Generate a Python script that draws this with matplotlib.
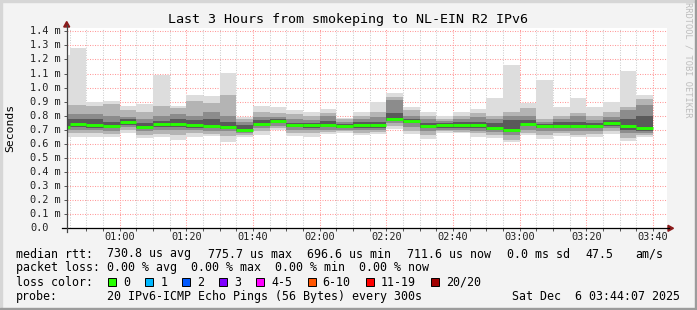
import matplotlib
matplotlib.use("Agg")
import matplotlib.pyplot as plt
import matplotlib.dates as mdates
import matplotlib.transforms as mtrans
from matplotlib.patches import Rectangle, Polygon
from matplotlib.lines import Line2D
import numpy as np
import pandas as pd

## chart data (milliseconds), one value per 5 minute step, step end times below
bar_end = pd.date_range("2025-12-06 00:45", "2025-12-06 03:40", freq="5min")

ping_max = [1.23, 1.28, 0.896, 0.907, 0.866, 0.88, 1.089, 0.872, 0.946, 0.94,
            1.107, 0.793, 0.872, 0.865, 0.84, 0.83, 0.845, 0.786, 0.83, 0.896,
            0.963, 0.86, 0.824, 0.80, 0.824, 0.845, 0.923, 1.16, 0.892, 1.053,
            0.865, 0.928, 0.864, 0.90, 1.12, 0.946]
smoke_hi2 = [0.875, 0.875, 0.872, 0.88, 0.84, 0.824, 0.87, 0.853, 0.906, 0.888,
             0.946, 0.775, 0.824, 0.817, 0.81, 0.80, 0.817, 0.775, 0.80, 0.824,
             0.935, 0.84, 0.796, 0.78, 0.80, 0.817, 0.80, 0.83, 0.853, 0.78,
             0.796, 0.817, 0.796, 0.824, 0.864, 0.917]
smoke_hi3 = [0.81, 0.81, 0.81, 0.80, 0.79, 0.78, 0.80, 0.81, 0.80, 0.83,
             0.80, 0.757, 0.793, 0.793, 0.78, 0.77, 0.80, 0.757, 0.78, 0.793,
             0.911, 0.80, 0.775, 0.765, 0.78, 0.79, 0.78, 0.80, 0.80, 0.757,
             0.78, 0.796, 0.77, 0.79, 0.84, 0.876]
smoke_hi4 = [0.775, 0.775, 0.774, 0.757, 0.775, 0.75, 0.76, 0.774, 0.77, 0.78,
             0.758, 0.734, 0.77, 0.78, 0.746, 0.75, 0.76, 0.74, 0.757, 0.757,
             0.817, 0.78, 0.75, 0.75, 0.757, 0.757, 0.75, 0.77, 0.77, 0.74,
             0.757, 0.757, 0.75, 0.77, 0.78, 0.80]
median_rtt = [0.722, 0.740, 0.736, 0.724, 0.757, 0.720, 0.740, 0.740, 0.735, 0.724,
              0.720, 0.698, 0.740, 0.762, 0.734, 0.734, 0.734, 0.724, 0.734, 0.734,
              0.776, 0.765, 0.724, 0.734, 0.734, 0.734, 0.715, 0.698, 0.740, 0.724,
              0.724, 0.724, 0.724, 0.746, 0.724, 0.710]
smoke_lo4 = [0.71, 0.72, 0.716, 0.71, 0.735, 0.71, 0.72, 0.72, 0.71, 0.71,
             0.705, 0.69, 0.725, 0.745, 0.72, 0.715, 0.72, 0.715, 0.715, 0.715,
             0.76, 0.745, 0.71, 0.715, 0.715, 0.715, 0.70, 0.685, 0.725, 0.71,
             0.71, 0.71, 0.71, 0.73, 0.70, 0.695]
smoke_lo3 = [0.698, 0.698, 0.698, 0.69, 0.72, 0.69, 0.698, 0.698, 0.698, 0.695,
             0.69, 0.675, 0.71, 0.73, 0.70, 0.70, 0.70, 0.70, 0.70, 0.70,
             0.745, 0.72, 0.69, 0.70, 0.70, 0.695, 0.685, 0.66, 0.70, 0.69,
             0.695, 0.69, 0.69, 0.71, 0.675, 0.675]
smoke_lo2 = [0.675, 0.675, 0.675, 0.67, 0.70, 0.665, 0.67, 0.665, 0.675, 0.67,
             0.655, 0.66, 0.69, 0.715, 0.68, 0.675, 0.685, 0.69, 0.68, 0.685,
             0.73, 0.69, 0.66, 0.69, 0.685, 0.675, 0.665, 0.63, 0.68, 0.66,
             0.675, 0.665, 0.67, 0.69, 0.645, 0.66]
ping_min = [0.651, 0.651, 0.651, 0.651, 0.675, 0.64, 0.651, 0.627, 0.651, 0.655,
            0.615, 0.646, 0.663, 0.698, 0.655, 0.651, 0.67, 0.675, 0.663, 0.67,
            0.703, 0.667, 0.637, 0.68, 0.675, 0.651, 0.644, 0.615, 0.663, 0.634,
            0.658, 0.646, 0.651, 0.67, 0.623, 0.646]

y_ticks = [0.0, 0.1, 0.2, 0.3, 0.4, 0.5, 0.6, 0.7, 0.8, 0.9, 1.0, 1.1, 1.2, 1.3, 1.4]

title = "Last 3 Hours from smokeping to NL-EIN R2 IPv6"
rtt_stats = ["730.8 us avg", "775.7 us max", "696.6 us min", "711.6 us now",
             "0.0 ms sd", "47.5", "am/s"]
loss_stats = "0.00 % avg  0.00 % max  0.00 % min  0.00 % now"
loss_labels = ["0", "1", "2", "3", "4-5", "6-10", "11-19", "20/20"]
loss_colors = ["#26ff00", "#00b8ff", "#0059ff", "#7e00ff", "#ff00ff",
               "#ff5500", "#ff0000", "#a10000"]
probe_text = "20 IPv6-ICMP Echo Pings (56 Bytes) every 300s"
stamp = "Sat Dec  6 03:44:07 2025"

## layout in pixels
W, H = 697, 310
MONO = "DejaVu Sans Mono"


def fx(x):
    return x / W


def fy(y):
    return 1 - y / H


fig = plt.figure(figsize=(W / 100, H / 100), dpi=100, facecolor="#f3f3f3")
ax = fig.add_axes([fx(66.7), fy(228.3), 600 / W, (228.3 - 28) / H])
ax.set_facecolor("white")

t_start = pd.Timestamp("2025-12-06 00:44:07")
t_stop = pd.Timestamp("2025-12-06 03:44:07")
ax.set_xlim(mdates.date2num(t_start), mdates.date2num(t_stop))
ax.set_ylim(0, 1.4 + 3.3 / 140.8)

## grid (dotted, drawn first)
for t in pd.date_range("2025-12-06 00:45", "2025-12-06 03:40", freq="5min"):
    major = t.minute % 20 == 0
    ax.axvline(mdates.date2num(t), color="#ff9a9a" if major else "#cfcfcf",
               lw=0.75, ls=(0, (1, 1.4)), zorder=1)
for v in y_ticks[1:]:
    ax.axhline(v, color="#ff9a9a", lw=0.75, ls=(0, (1, 1.4)), zorder=1)

## smoke
x0 = mdates.date2num((bar_end - pd.Timedelta(minutes=5)).to_pydatetime())
step = 5 / 1440
layers = [(ping_min, ping_max, "#dddddd"),
          (smoke_lo2, smoke_hi2, "#b4b4b4"),
          (smoke_lo3, smoke_hi3, "#8c8c8c"),
          (smoke_lo4, smoke_hi4, "#5a5a5a")]
for lo, hi, col in layers:
    lo = np.array(lo)
    hi = np.array(hi)
    ax.bar(x0, hi - lo, width=step, bottom=lo, align="edge", color=col,
           linewidth=0, zorder=2)

ax.hlines(median_rtt, x0, x0 + step, colors="#26ff00", lw=2.1, zorder=3)

## ticks
for s in ax.spines.values():
    s.set_visible(False)
ax.set_xticks(x0[1:] + step)
ax.set_yticks(y_ticks)
ax.tick_params(length=2.5, width=0.7, color="#555555",
               labelbottom=False, labelleft=False)

ylab_tr = mtrans.blended_transform_factory(fig.transFigure, ax.transData)
for v in y_ticks:
    lab = "0.0" if v == 0 else "%.1f m" % v
    ax.text(fx(30), v, lab, transform=ylab_tr, ha="left", va="center",
            fontsize=7.4, family=MONO, color="#222222")

xlab_tr = mtrans.blended_transform_factory(ax.transData, fig.transFigure)
for t in pd.date_range("2025-12-06 01:00", "2025-12-06 03:40", freq="20min"):
    ax.text(mdates.date2num(t), fy(237.3), t.strftime("%H:%M"), transform=xlab_tr,
            ha="center", va="center", fontsize=7.4, family=MONO, color="#222222")

## axis lines with arrows
fig.add_artist(Line2D([fx(62), fx(669)], [fy(228.3)] * 2, color="black", lw=0.9))
fig.add_artist(Line2D([fx(66.7)] * 2, [fy(232), fy(25)], color="#444444", lw=0.9))
fig.add_artist(Polygon([[fx(668), fy(225.3)], [fx(668), fy(231.3)], [fx(673.5), fy(228.3)]],
                       closed=True, color="#8b1a1a", transform=fig.transFigure))
fig.add_artist(Polygon([[fx(63.7), fy(27)], [fx(69.7), fy(27)], [fx(66.7), fy(21.5)]],
                       closed=True, color="#8b1a1a", transform=fig.transFigure))

## frame of the canvas
fig.add_artist(Rectangle((0, fy(2)), 1, 2 / H, color="#d6d6d6", transform=fig.transFigure))
fig.add_artist(Rectangle((0, 0), 2 / W, 1, color="#d6d6d6", transform=fig.transFigure))
fig.add_artist(Rectangle((0, 0), 1, 2.5 / H, color="#9c9c9c", transform=fig.transFigure))
fig.add_artist(Rectangle((fx(694.5), 0), 2.5 / W, 1, color="#9c9c9c", transform=fig.transFigure))

## texts
fig.text(fx(348), fy(19.3), title, ha="center", va="center", fontsize=9.6,
         family=MONO, color="black")
fig.text(fx(10.5), fy(127.5), "Seconds", rotation=90, ha="center", va="center",
         fontsize=8.2, family=MONO, color="black")
fig.text(fx(687.7), fy(60), "RRDTOOL / TOBI OETIKER", rotation=270, ha="center",
         va="center", fontsize=6.2, family=MONO, color="#bdbdbd")

FS = 8.4
row_y = [254, 268, 282, 296.3]
fig.text(fx(16), fy(row_y[0]), "median rtt:", ha="left", va="center", fontsize=FS, family=MONO)
for x, s in zip([107.3, 207.6, 306.7, 406.7, 506.7, 585.7, 635], rtt_stats):
    fig.text(fx(x), fy(row_y[0]), s, ha="left", va="center", fontsize=FS, family=MONO)

fig.text(fx(16), fy(row_y[1]), "packet loss:", ha="left", va="center", fontsize=FS, family=MONO)
fig.text(fx(107.3), fy(row_y[1]), loss_stats, ha="left", va="center", fontsize=FS, family=MONO)

fig.text(fx(16), fy(row_y[2]), "loss color:", ha="left", va="center", fontsize=FS, family=MONO)
char_w = 7.03
x = 108.3
for lab, col in zip(loss_labels, loss_colors):
    fig.add_artist(Rectangle((fx(x), fy(row_y[2] + 4)), 8 / W, 8 / H, facecolor=col,
                             edgecolor="black", lw=0.7, transform=fig.transFigure))
    fig.text(fx(x + 15), fy(row_y[2]), lab, ha="left", va="center", fontsize=FS, family=MONO)
    x = x + 15 + len(lab) * char_w + 15

fig.text(fx(16), fy(row_y[3]), "probe:", ha="left", va="center", fontsize=FS, family=MONO)
fig.text(fx(107.3), fy(row_y[3]), probe_text, ha="left", va="center", fontsize=FS, family=MONO)
fig.text(fx(679.5), fy(row_y[3]), stamp, ha="right", va="center", fontsize=FS, family=MONO)

fig.savefig("out.png", dpi=100, facecolor=fig.get_facecolor())
